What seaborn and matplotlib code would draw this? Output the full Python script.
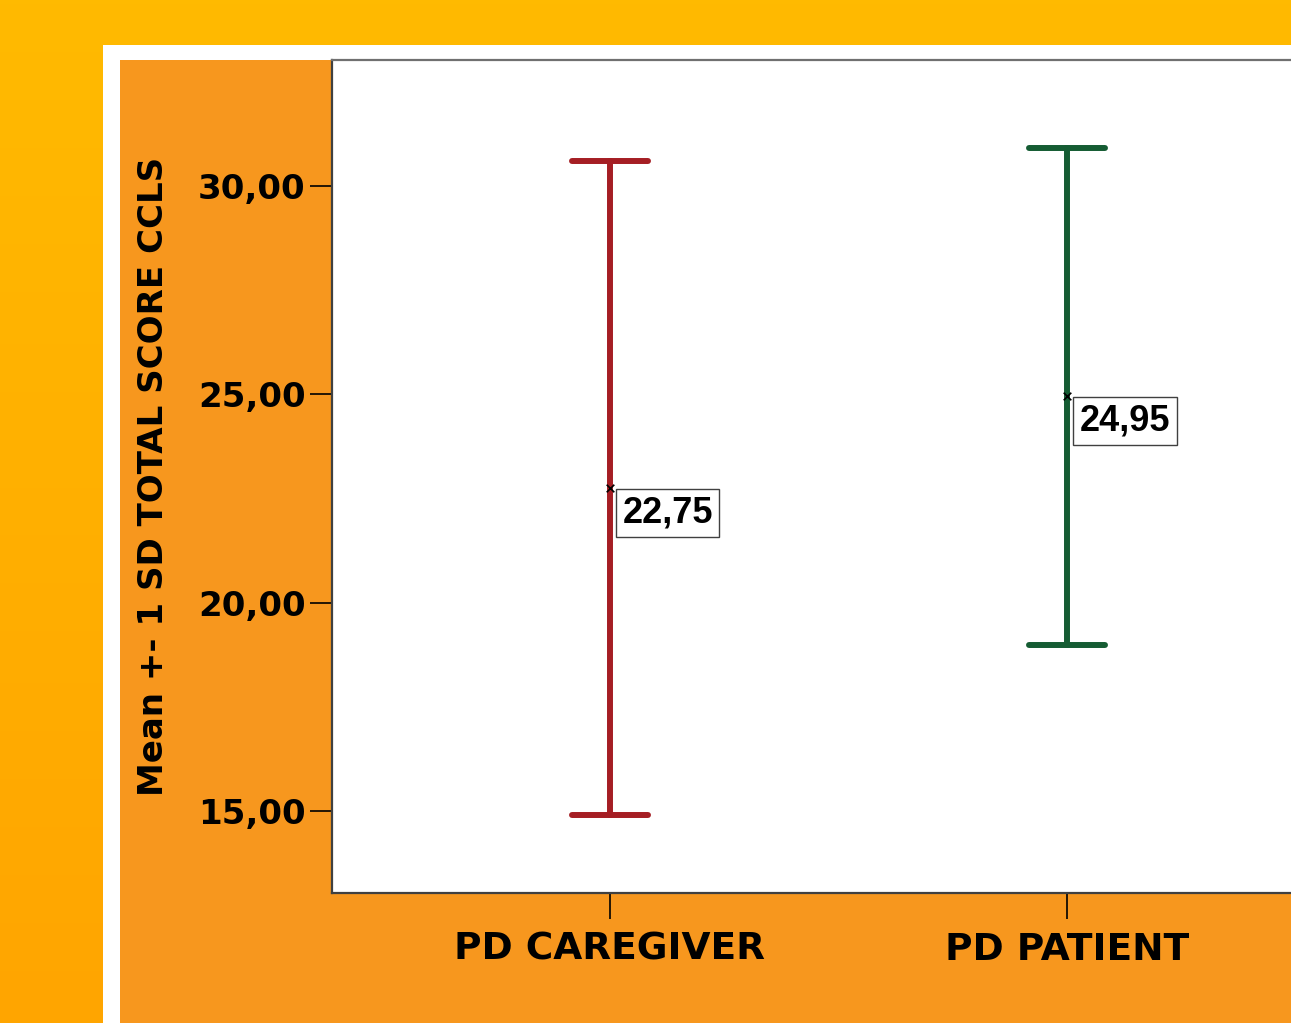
import numpy as np
import pandas as pd
import matplotlib
matplotlib.use("Agg")
import matplotlib.pyplot as plt
from matplotlib.patches import Rectangle
import seaborn as sns

# dados (média +- 1 DP)
grupos = ["PD CAREGIVER", "PD PATIENT"]
medias = [22.75, 24.95]
desvios = [7.85, 5.97]
rotulos = ["22,75", "24,95"]
cores = ["#A51E24", "#155C33"]

# cada grupo vira dois pontos (média-DP, média+DP): média = média, min/max = barras
linhas = []
for g, m, s in zip(grupos, medias, desvios):
    linhas.append({"grupo": g, "valor": m - s})
    linhas.append({"grupo": g, "valor": m + s})
df = pd.DataFrame(linhas)

sns.set_style("white")
plt.rcParams["font.family"] = ["DejaVu Sans"]
plt.rcParams["font.weight"] = "bold"
plt.rcParams["text.color"] = "black"
plt.rcParams["axes.labelcolor"] = "black"
plt.rcParams["xtick.color"] = "black"
plt.rcParams["ytick.color"] = "black"

fig = plt.figure(figsize=(12.91, 10.23), dpi=100)

# fundo em degradê amarelo/laranja
bg = fig.add_axes([0, 0, 1, 1], zorder=-10)
grad = np.linspace(0, 1, 256).reshape(-1, 1)
cmap = matplotlib.colors.LinearSegmentedColormap.from_list("bg", ["#FFBA00", "#FFA500"])
bg.imshow(grad, aspect="auto", cmap=cmap, extent=[0, 1, 0, 1], origin="upper")
bg.set_axis_off()
fig.patches.append(Rectangle((103 / 1291, 0), 1, 1 - 45 / 1023, transform=fig.transFigure,
                             facecolor="white", edgecolor="none", zorder=-5))
fig.patches.append(Rectangle((120 / 1291, 0), 1, 1 - 60 / 1023, transform=fig.transFigure,
                             facecolor="#F7971E", edgecolor="none", zorder=-4))

ax = fig.add_axes([332 / 1291, 1 - 893 / 1023, (1345 - 332) / 1291, (893 - 60) / 1023])
ax.set_facecolor("white")

sns.pointplot(data=df, x="grupo", y="valor", hue="grupo", palette=cores, order=grupos,
              estimator="mean", errorbar=lambda v: (v.min(), v.max()),
              capsize=0.165, err_kws={"linewidth": 4.3}, markers="", linestyle="none",
              legend=False, ax=ax)

# marcador da média
medias_df = pd.DataFrame({"grupo": grupos, "media": medias})
sns.scatterplot(data=medias_df, x="grupo", y="media", marker="x", color="black",
                s=30, linewidth=1.2, ax=ax, zorder=5)

for i, (m, r) in enumerate(zip(medias, rotulos)):
    ax.annotate(r, xy=(i, m), xytext=(9, -18), textcoords="offset points",
                ha="left", va="center", fontsize=26, fontweight="bold", color="black",
                family=["Liberation Sans", "DejaVu Sans"],
                bbox=dict(boxstyle="square,pad=0.18", facecolor="white",
                          edgecolor="#404040", linewidth=1))

ax.set_xlim(-0.608, 1.608)
ax.set_ylim(13.03, 33.02)
ax.set_yticks([15, 20, 25, 30])
ax.set_yticklabels(["15,00", "20,00", "25,00", "30,00"])
ax.tick_params(axis="y", direction="out", length=16, width=1.2, color="black",
               labelsize=24.5, pad=3, left=True)
ax.tick_params(axis="x", direction="out", length=19, width=1.2, color="black",
               labelsize=27, pad=9, bottom=True)
for lbl in ax.get_xticklabels() + ax.get_yticklabels():
    lbl.set_fontweight("bold")

ax.set_xlabel("")
ax.set_ylabel("Mean +- 1 SD TOTAL SCORE CCLS", fontsize=24.5, fontweight="bold", labelpad=20)

for lado in ["left", "bottom"]:
    ax.spines[lado].set_color("#404040")
    ax.spines[lado].set_linewidth(1.6)
ax.spines["top"].set_color("#707070")
ax.spines["top"].set_linewidth(1.6)
ax.spines["right"].set_visible(False)

fig.savefig("out.png", dpi=100)
